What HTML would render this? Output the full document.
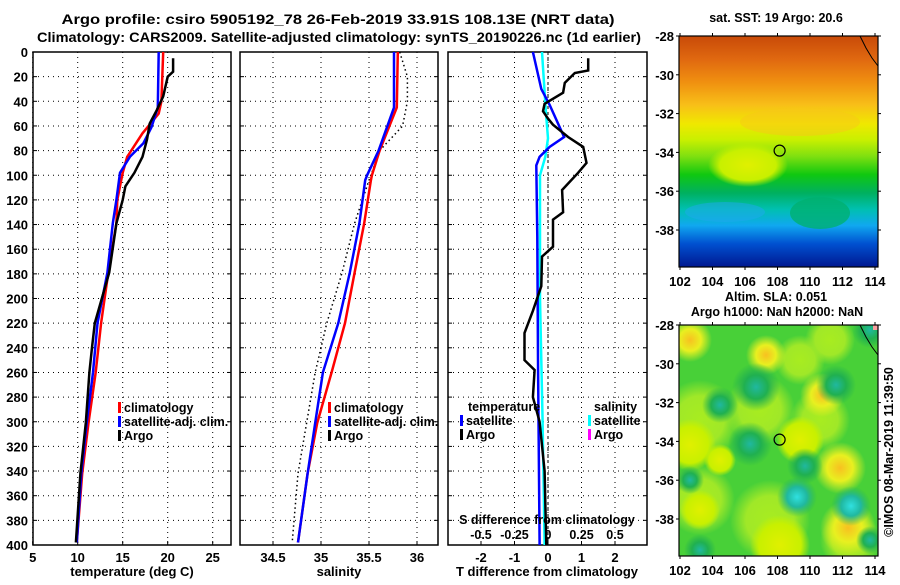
<!DOCTYPE html>
<html><head><meta charset="utf-8"><style>
body{margin:0;background:#fff}
svg text{font-family:"Liberation Sans",Arial,sans-serif;font-weight:bold;fill:#000}
</style></head><body>
<svg id="c" width="900" height="580" viewBox="0 0 900 580" xmlns="http://www.w3.org/2000/svg">
<defs>
<linearGradient id="sst" x1="0" y1="0" x2="0" y2="1">
<stop offset="0" stop-color="#c84a08"/><stop offset="0.1" stop-color="#e06810"/><stop offset="0.2" stop-color="#f09010"/>
<stop offset="0.3" stop-color="#f8c018"/><stop offset="0.38" stop-color="#f0e800"/><stop offset="0.45" stop-color="#c8f000"/>
<stop offset="0.52" stop-color="#80e010"/><stop offset="0.6" stop-color="#10c810"/><stop offset="0.68" stop-color="#00b060"/>
<stop offset="0.75" stop-color="#00c0b0"/><stop offset="0.82" stop-color="#10a8f0"/><stop offset="0.9" stop-color="#0050d0"/>
<stop offset="1" stop-color="#001890"/></linearGradient>
<radialGradient id="yel"><stop offset="0" stop-color="#f8c020"/><stop offset="0.5" stop-color="#e8f020"/><stop offset="1" stop-color="#e8f020" stop-opacity="0"/></radialGradient>
<radialGradient id="yl2"><stop offset="0" stop-color="#e0f000"/><stop offset="0.7" stop-color="#c8f000"/><stop offset="1" stop-color="#c8f000" stop-opacity="0"/></radialGradient>
<radialGradient id="yg"><stop offset="0" stop-color="#a8ec20"/><stop offset="0.6" stop-color="#a0e828"/><stop offset="1" stop-color="#a0e828" stop-opacity="0"/></radialGradient>
<radialGradient id="tel"><stop offset="0" stop-color="#20b8a0"/><stop offset="0.5" stop-color="#20b050"/><stop offset="1" stop-color="#20b050" stop-opacity="0"/></radialGradient>
<radialGradient id="cya"><stop offset="0" stop-color="#30e0e0"/><stop offset="0.5" stop-color="#20b8a0"/><stop offset="1" stop-color="#20b060" stop-opacity="0"/></radialGradient>
</defs>
<text x="338" y="24" text-anchor="middle" font-size="14" textLength="553" lengthAdjust="spacingAndGlyphs">Argo profile: csiro 5905192_78 26-Feb-2019 33.91S 108.13E (NRT data)</text>
<text x="339" y="42" text-anchor="middle" font-size="14" textLength="604" lengthAdjust="spacingAndGlyphs">Climatology: CARS2009. Satellite-adjusted climatology: synTS_20190226.nc (1d earlier)</text>
<g id="panels"></g>
<g id="maps"></g>
</svg>
<script>
const NS='http://www.w3.org/2000/svg';
const svg=document.getElementById('c');
function mk(t,a,p){const e=document.createElementNS(NS,t);for(const k in a)e.setAttribute(k,a[k]);(p||svg).appendChild(e);return e;}
// ---- data ----
const depthTicks=[0,20,40,60,80,100,120,140,160,180,200,220,240,260,280,300,320,340,360,380,400];
const tempTicks=[5,10,15,20,25];
const salTicks=[34.5,35,35.5,36];
const tdiffTicks=[-2,-1,0,1,2];
const sdiffTicks=[-0.5,-0.25,0,0.25,0.5];
const sdiffLabels=['-0.5','-0.25','0','0.25','0.5'];
const tClimDepth=[0,40,50,66,85,98,109,120,139,179,220,260,301,342,398];
const tClim=[19.5,19.3,19.0,17.2,15.5,15.0,14.7,14.4,14.3,13.4,12.6,12.0,11.2,10.5,9.9];
const tSatDepth=[0,45,61,74,85,98,120,139,179,220,260,301,342,398];
const tSat=[19.0,18.9,18.2,17.3,15.8,14.7,14.3,13.9,13.3,12.2,11.7,11.0,10.4,9.9];
const tArgoDepth=[5,16,20,36,47,58,71,85,98,109,120,139,179,220,239,260,301,342,398];
const tArgo=[20.6,20.6,20.0,19.5,18.8,18.0,17.7,17.2,16.3,15.3,15.0,14.3,13.5,11.9,11.6,11.3,10.9,10.3,9.8];
const sDepth=[0,45,80,100,104,139,179,220,260,301,342,398];
const sClim=[35.80,35.79,35.61,35.53,35.52,35.45,35.35,35.25,35.11,34.96,34.86,34.76];
const sSat=[35.76,35.76,35.60,35.48,35.46,35.40,35.30,35.18,35.02,34.94,34.86,34.76];
const sArgoDepth=[0,20,40,60,80,100,104,139,179,220,260,301,342,398];
const sArgo=[35.82,35.90,35.90,35.85,35.61,35.52,35.50,35.35,35.22,35.06,34.94,34.85,34.76,34.70];
const dArgoDepth=[5,15,17,25,33,42,48,54,59,69,77,90,98,112,130,136,158,166,190,210,228,250,258,280,300,340,400];
const dArgo=[1.2,1.2,0.8,0.5,0.45,-0.1,-0.15,0,0.15,0.6,1.05,1.15,0.9,0.42,0.45,0.15,0.15,-0.18,-0.2,-0.45,-0.7,-0.7,-0.4,-0.45,-0.25,-0.1,-0.05];
const dSatDepth=[0,30,43,69,77,85,92,150,250,400];
const dSat=[-0.45,-0.2,0.05,0.48,0.05,-0.25,-0.35,-0.32,-0.3,-0.25];
const dSalDepth=[0,50,70,85,100,200,300,400];
const dSal=[-0.045,-0.015,0.0,-0.02,-0.06,-0.06,-0.04,-0.025];
// ---- axes ----
const yTop=52,yBot=545;
const yD=d=>yTop+(d-0)*(yBot-yTop)/400;
const xT=t=>32.7+(t-5)*9;
const xS=s=>273+(s-34.5)*96;
const xDT=t=>548+t*33.5;
const xDS=s=>548+s*134;
const P=document.getElementById('panels');
function panel(x0,x1,name,vt,vx,labels){
  const g=mk('g',{},P);
  depthTicks.forEach(d=>{if(d>0&&d<400)mk('line',{x1:x0,x2:x1,y1:yD(d),y2:yD(d),stroke:'#000','stroke-dasharray':'1,4'},g);
    mk('line',{x1:x0,x2:x0+4,y1:yD(d),y2:yD(d),stroke:'#000'},g);mk('line',{x1:x1-4,x2:x1,y1:yD(d),y2:yD(d),stroke:'#000'},g);});
  vt.forEach((v,i)=>{const x=vx(v);mk('line',{x1:x,x2:x,y1:yTop,y2:yBot,stroke:'#000','stroke-dasharray':'1,4'},g);
    mk('line',{x1:x,x2:x,y1:yBot-4,y2:yBot,stroke:'#000'},g);
    if(labels){const t=mk('text',{x:x,y:562,'text-anchor':'middle','font-size':13},g);t.textContent=labels[i];}});
  mk('rect',{x:x0,y:yTop,width:x1-x0,height:yBot-yTop,fill:'none',stroke:'#000','stroke-width':1.5},g);
  return g;}
function line(g,ds,vs,fx,col,name,dash){const pts=ds.map((d,i)=>fx(vs[i]).toFixed(1)+','+yD(d).toFixed(1)).join(' ');
  const a={points:pts,fill:'none',stroke:col,'stroke-width':dash?1.5:2.5};if(dash)a['stroke-dasharray']='1.5,3';
  const e=mk('polyline',a,g);}
function txt(g,x,y,s,anchor,size,name){const t=mk('text',{x:x,y:y,'text-anchor':anchor||'start','font-size':size||13},g);t.textContent=s;if(name){}return t;}
const g1=panel(33,231,'temperature-panel',tempTicks,xT,tempTicks.map(String));
const g2=panel(240,438,'salinity-panel',salTicks,xS,salTicks.map(String));
const g3=panel(448,647,'difference-panel',tdiffTicks,xDT,tdiffTicks.map(String));
mk('line',{x1:548,x2:548,y1:yTop,y2:yBot,stroke:'#000','stroke-dasharray':'3,3'},g3);
depthTicks.forEach(d=>{txt(g1,28,yD(d)+5,String(d),'end',13);});
line(g1,tClimDepth,tClim,xT,'#f00','temp-climatology-line');
line(g1,tSatDepth,tSat,xT,'#00f','temp-satellite-line');
line(g1,tArgoDepth,tArgo,xT,'#000','temp-argo-line');
line(g2,sArgoDepth,sArgo,xS,'#000','sal-argo-line',true);
line(g2,sDepth,sClim,xS,'#f00','sal-climatology-line');
line(g2,sDepth,sSat,xS,'#00f','sal-satellite-line');
line(g3,dSalDepth,dSal,xDS,'#0ff','sdiff-satellite-line');
line(g3,dSatDepth,dSat,xDT,'#00f','tdiff-satellite-line');
line(g3,dArgoDepth,dArgo,xDT,'#000','tdiff-argo-line');
function leg(g,x,y,col,s,name){const gg=mk('g',{},g);
  mk('rect',{x:x,y:y-10,width:3,height:11,fill:col},gg);txt(gg,x+6,y,s,'start',12.5);}
[[g1,118],[g2,328]].forEach(([g,x])=>{leg(g,x,412,'#f00','climatology','legend-climatology');leg(g,x,426,'#00f','satellite-adj. clim.','legend-satellite');leg(g,x,440,'#000','Argo','legend-argo');});
txt(g3,468,411,'temperature','start',12.5,'legend-temperature-header');
leg(g3,460,425,'#00f','satellite','legend-t-satellite');leg(g3,460,439,'#000','Argo','legend-t-argo');
txt(g3,594,411,'salinity','start',12.5,'legend-salinity-header');
leg(g3,588,425,'#0ff','satellite','legend-s-satellite');leg(g3,588,439,'#f0f','Argo','legend-s-argo');
txt(g3,547,524,'S difference from climatology','middle',12.5,'s-diff-axis-title');
sdiffTicks.forEach((v,i)=>txt(g3,xDS(v),539,sdiffLabels[i],'middle',12.5));
txt(g1,132,576,'temperature (deg C)','middle',13,'temp-axis-title');
txt(g2,339,576,'salinity','middle',13,'sal-axis-title');
txt(g3,547,576,'T difference from climatology','middle',13,'tdiff-axis-title');
// ---- maps ----
const M=document.getElementById('maps');
const latTicks=[-28,-30,-32,-34,-36,-38];
const lonTicks=[102,104,106,108,110,112,114];
const argoLon=108.13, argoLat=-33.91;
function mapFrame(y0,name,cb){
  const g=mk('g',{},M);
  const x0=679,x1=878,y1=y0+231;
  const mx=l=>680+(l-102)*16.25, my=l=>y0+(-28-l)*19.4;
  const cp='cp'+y0;const c=mk('clipPath',{id:cp},g);mk('rect',{x:x0,y:y0,width:x1-x0,height:y1-y0},c);
  const inner=mk('g',{'clip-path':'url(#'+cp+')'},g);cb(inner,x0,y0,x1,y1);
  mk('path',{d:`M${x1-18},${y0} L${x1-12},${y0+12} L${x1-6},${y0+22} L${x1},${y0+30}`,fill:'none',stroke:'#000','stroke-width':1},g);
  mk('rect',{x:x0,y:y0,width:x1-x0,height:y1-y0,fill:'none',stroke:'#000','stroke-width':1.2},g);
  latTicks.forEach(l=>{mk('line',{x1:x0-3,x2:x0,y1:my(l),y2:my(l),stroke:'#000'},g);mk('line',{x1:x1,x2:x1+3,y1:my(l),y2:my(l),stroke:'#000'},g);txt(g,674,my(l)+5,String(l),'end',13);});
  lonTicks.forEach(l=>{mk('line',{x1:mx(l),x2:mx(l),y1:y1,y2:y1+3,stroke:'#000'},g);mk('line',{x1:mx(l),x2:mx(l),y1:y0-3,y2:y0,stroke:'#000'},g);txt(g,mx(l),y1+19,String(l),'middle',13);});
  const ci=mk('circle',{cx:mx(argoLon),cy:my(argoLat),r:5.5,fill:'none',stroke:'#000','stroke-width':1.2},g);
  
  
}
mapFrame(36,'sst-map',(g,x0,y0,x1,y1)=>{
  mk('rect',{x:x0,y:y0,width:x1-x0,height:y1-y0,fill:'url(#sst)'},g);
  mk('ellipse',{cx:748,cy:165,rx:40,ry:22,fill:'url(#yl2)'},g);
  mk('ellipse',{cx:800,cy:122,rx:60,ry:14,fill:'#f8c818',opacity:0.5},g);
  mk('ellipse',{cx:820,cy:213,rx:30,ry:16,fill:'#00b070',opacity:0.8},g);
  mk('ellipse',{cx:725,cy:212,rx:40,ry:10,fill:'#20a8f0',opacity:0.5},g);
});
mapFrame(325,'sla-map',(g,x0,y0,x1,y1)=>{
  mk('rect',{x:x0,y:y0,width:x1-x0,height:y1-y0,fill:'#48d038'},g);
  [[700,420,40],[760,410,35],[820,420,30],[700,500,35],[770,520,40],[850,540,30],[830,340,25],[800,360,25]]
   .forEach(b=>mk('circle',{cx:b[0],cy:b[1],r:b[2],fill:'url(#yg)'},g));
  [[690,340,22,'#yel'],[766,355,20,'#yel'],[822,395,22,'#yel'],[840,468,26,'#yel'],[848,528,28,'#yel'],[690,445,26,'#yl2'],[700,510,20,'#yl2'],[800,440,24,'#yl2'],[780,545,30,'#yl2'],[720,460,16,'#yl2']]
   .forEach(b=>mk('circle',{cx:b[0],cy:b[1],r:b[2],fill:'url('+b[3]+')'},g));
  [[756,387,24,'#tel'],[836,385,20,'#tel'],[750,444,22,'#tel'],[805,466,18,'#tel'],[720,405,18,'#tel'],[870,330,18,'#tel'],[870,540,14,'#tel'],[700,550,16,'#tel'],[690,480,14,'#tel']]
   .forEach(b=>mk('circle',{cx:b[0],cy:b[1],r:b[2],fill:'url('+b[3]+')'},g));
  [[797,497,20,'#cya'],[851,506,20,'#cya']].forEach(b=>mk('circle',{cx:b[0],cy:b[1],r:b[2],fill:'url('+b[3]+')'},g));
  mk('rect',{x:873,y:325,width:5,height:5,fill:'#f8a0a0'},g);
});
txt(M,776,22,'sat. SST: 19 Argo: 20.6','middle',12.5,'sst-map-title');
txt(M,776,301,'Altim. SLA: 0.051','middle',12.5,'sla-map-title');
txt(M,777,316,'Argo h1000: NaN h2000: NaN','middle',12.5,'sla-map-subtitle');
const cr=txt(M,0,0,'©IMOS 08-Mar-2019 11:39:50','middle',12.5,'copyright-timestamp');
cr.setAttribute('font-weight','normal');
cr.setAttribute('transform','translate(893,452) rotate(-90)');
</script>
</body></html>
